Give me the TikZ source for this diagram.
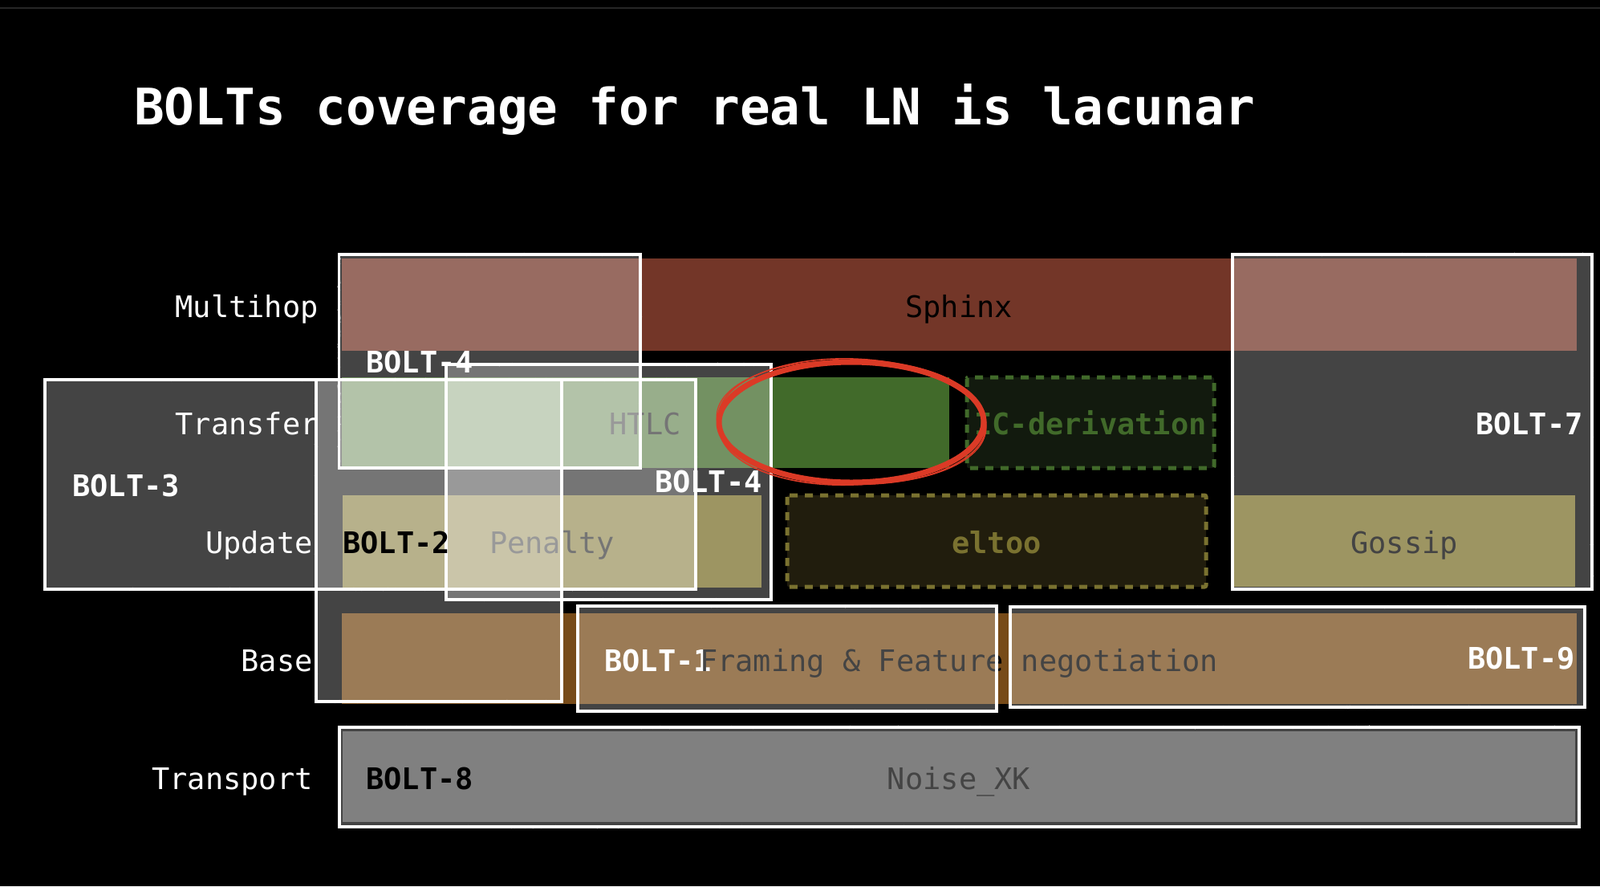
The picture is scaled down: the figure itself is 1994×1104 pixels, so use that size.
\documentclass[tikz,border=0pt]{standalone}
\usepackage{fontspec}
\newfontfamily\plexmono{DejaVu Sans Mono}
\usetikzlibrary{decorations.pathmorphing}
\definecolor{sphinxc}{HTML}{733628}
\definecolor{greenc}{HTML}{416A2A}
\definecolor{icfill}{HTML}{121A0E}
\definecolor{olivec}{HTML}{7A6F2A}
\definecolor{eltooline}{HTML}{7A7230}
\definecolor{eltoofill}{HTML}{211D0D}
\definecolor{basec}{HTML}{774B19}
\definecolor{noisec}{HTML}{525252}
\definecolor{redpen}{HTML}{DB3A26}
\definecolor{topline}{HTML}{262626}
\begin{document}
\begin{tikzpicture}[x=1pt,y=-1pt,
  rowlabel/.style={inner sep=0pt, anchor=base east, text=white, font=\plexmono\fontsize{37}{40}\selectfont},
  bartext/.style={inner sep=0pt, anchor=base, text=black, font=\plexmono\fontsize{37}{40}\selectfont},
  plantext/.style={inner sep=0pt, anchor=base, font=\plexmono\bfseries\fontsize{37}{40}\selectfont},
  boltw/.style={inner sep=0pt, anchor=base west, text=white, font=\plexmono\bfseries\fontsize{37}{40}\selectfont},
  bolte/.style={inner sep=0pt, anchor=base east, text=white, font=\plexmono\bfseries\fontsize{37}{40}\selectfont},
  dashbox/.style={line width=5pt, dash pattern=on 10pt off 9pt, rounded corners=2pt},
  ovl/.style={fill=white, fill opacity=0.265},
  chalk/.style={draw=white, line width=3.6pt},
  chalkrough/.style={draw=white, line width=1.4pt, decorate, decoration={random steps, segment length=2.5pt, amplitude=1.3pt}},
]
\useasboundingbox (0,0) rectangle (1994,1104);
\fill[black] (0,0) rectangle (1994,1104);
\draw[topline, line width=2pt] (0,10) -- (1994,10);

% title
\node[inner sep=0pt, anchor=base west, text=white, font=\plexmono\bfseries\fontsize{62.7}{70}\selectfont] (title) at (167,155) {BOLTs coverage for real LN is lacunar};

% row labels
\node[rowlabel] (lmulti) at (397,395) {Multihop};
\node[rowlabel] (ltransfer) at (397,541) {Transfer};
\node[rowlabel] (lupdate) at (390,689) {Update};
\node[rowlabel] (lbase) at (390,836) {Base};
\node[rowlabel] (ltransport) at (390,983) {Transport};

% bars
\fill[sphinxc] (426,322) rectangle (1965,436.5);
\node[bartext] (sphinx) at (1195,395) {Sphinx};

\fill[greenc] (426,470) rectangle (1183,583);
\node[bartext] (htlc) at (804,541) {HTLC};
\draw[dashbox, draw=greenc, fill=icfill] (1205,470) rectangle (1513,583);
\node[plantext, text=greenc] (icder) at (1359,541) {IC-derivation};

\fill[olivec] (427,617) rectangle (949,732);
\node[bartext] (penalty) at (688,689) {Penalty};
\draw[dashbox, draw=eltooline, fill=eltoofill] (981,617) rectangle (1503,731);
\node[plantext, text=eltooline] (eltoo) at (1242,689) {eltoo};
\fill[olivec] (1538,617) rectangle (1963,731);
\node[bartext] (gossip) at (1750,689) {Gossip};

\fill[basec] (426,764) rectangle (1965,877);
\node[boltw] (bolt1) at (753,836) {BOLT-1};
\node[bartext] (framing) at (1195,836) {Framing \& Feature negotiation};

\fill[noisec] (427,911) rectangle (1963,1024);
\node[bartext] (noise) at (1195,983) {Noise\_XK};

% BOLT overlay boxes
\foreach \a/\b/\c/\d in {422.5/317/798/583, 556/454/961/747, 56/473/867/734, 394/473/700/874, 1536/317/1984/734, 720/755/1242/886, 1259/756/1975/881, 423/906/1968/1030}{
  \fill[ovl] (\a,\b) rectangle (\c,\d);
}
\foreach \a/\b/\c/\d in {422.5/317/798/583, 556/454/961/747, 56/473/867/734, 394/473/700/874, 1536/317/1984/734, 720/755/1242/886, 1259/756/1975/881, 423/906/1968/1030}{
  \draw[chalk] (\a,\b) rectangle (\c,\d);
  \draw[chalkrough] (\a,\b) -- (\c,\b) -- (\c,\d) -- (\a,\d) -- cycle;
}

% BOLT labels
\node[boltw] (bolt4a) at (456,464) {BOLT-4};
\node[bolte] (bolt4b) at (950,613) {BOLT-4};
\node[boltw] (bolt3) at (90,618) {BOLT-3};
\node[boltw, text=black] (bolt2) at (427,689) {BOLT-2};
\node[bolte] (bolt7) at (1973,541) {BOLT-7};
\node[bolte] (bolt9) at (1963,833) {BOLT-9};
\node[boltw, text=black] (bolt8) at (456,983) {BOLT-8};

% red hand-drawn ellipse
\draw[redpen, line width=7pt] (1061,526) ellipse [x radius=165pt, y radius=75pt];
\draw[redpen, line width=1.6pt, rotate around={-2:(1061,526)}] (1062,525) ellipse [x radius=167pt, y radius=78pt];
\draw[redpen, line width=1.6pt, rotate around={2:(1061,526)}] (1060,527) ellipse [x radius=164pt, y radius=77pt];
\draw[redpen, line width=1.2pt, rotate around={-3:(1061,526)}] (1061,526) ellipse [x radius=168pt, y radius=76pt];
\end{tikzpicture}
\end{document}
